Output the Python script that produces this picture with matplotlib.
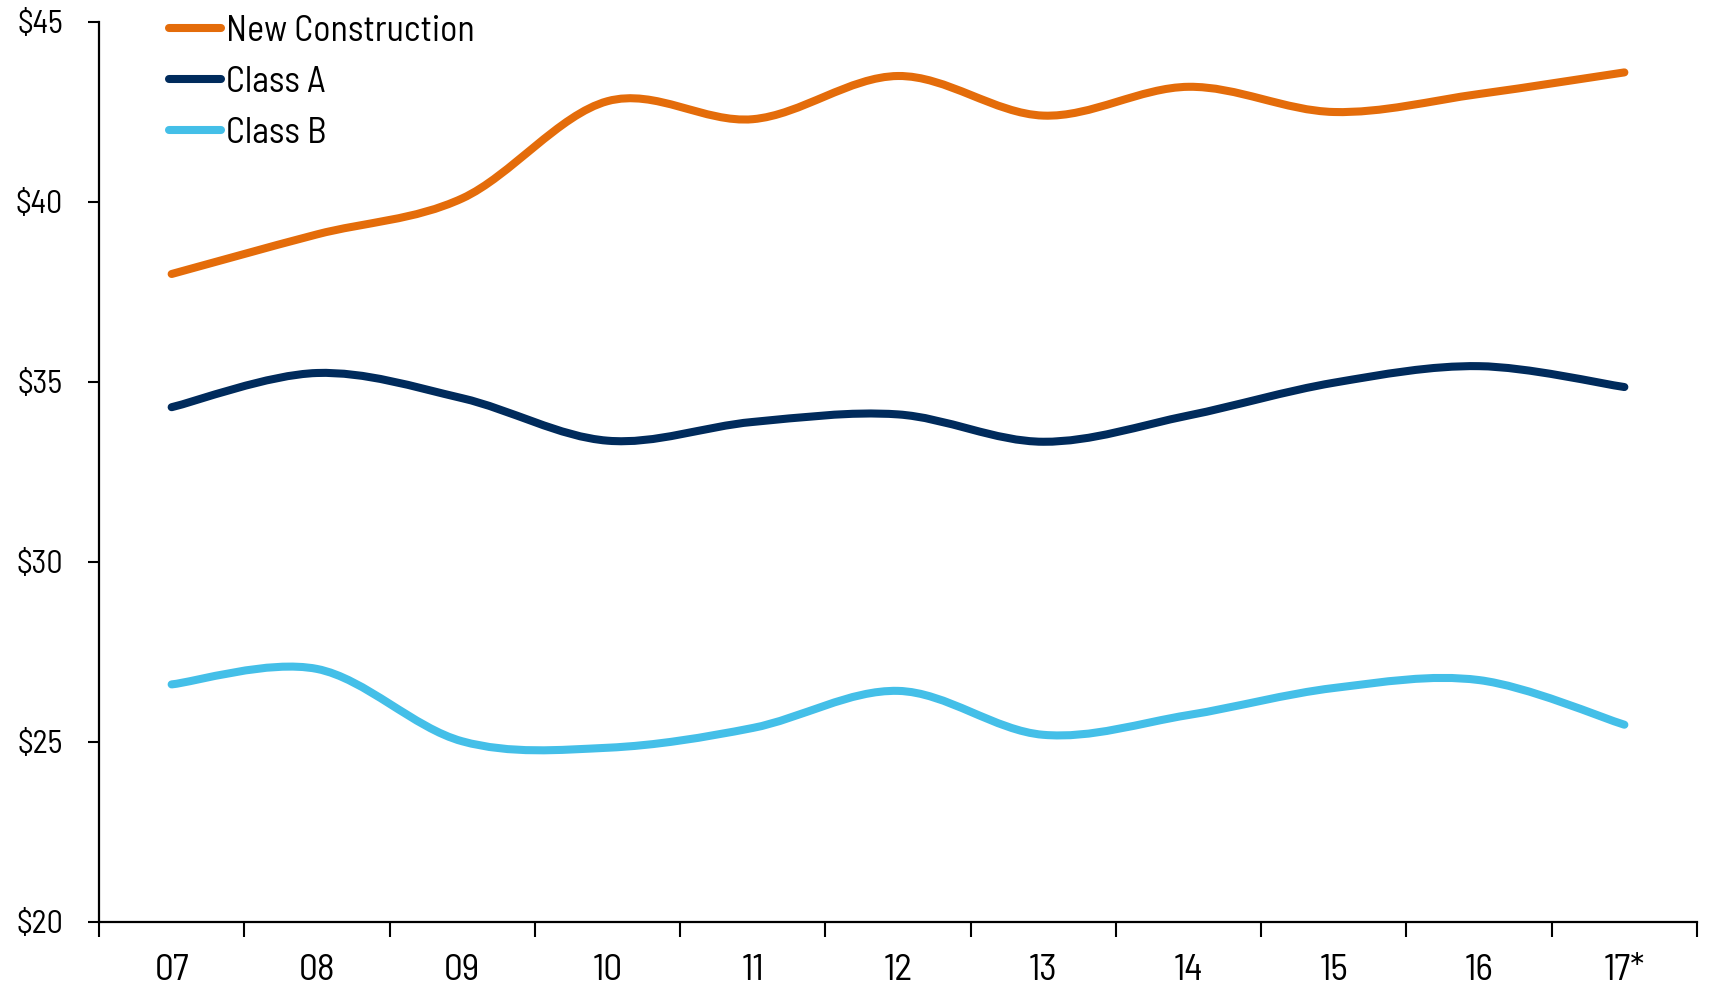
import matplotlib
matplotlib.use("Agg")
import matplotlib.pyplot as plt
from matplotlib.path import Path
from matplotlib.patches import PathPatch
from matplotlib.lines import Line2D
import numpy as np

# ---- data ----
years = ["07", "08", "09", "10", "11", "12", "13", "14", "15", "16", "17*"]
new_construction = [38.0, 39.1, 40.1, 42.8, 42.3, 43.5, 42.4, 43.2, 42.5, 43.0, 43.6]
class_a = [34.3, 35.25, 34.55, 33.37, 33.89, 34.1, 33.34, 34.07, 34.98, 35.44, 34.86]
class_b = [26.6, 27.03, 25.02, 24.84, 25.39, 26.42, 25.2, 25.75, 26.5, 26.72, 25.48]
series_names = ["New Construction", "Class A", "Class B"]
y_ticks = [20, 25, 30, 35, 40, 45]

colors = ["#E46C0A", "#002B5C", "#44BFE8"]

plt.rcParams["font.family"] = ["Barlow Semi Condensed", "DejaVu Sans"]
plt.rcParams["font.weight"] = "normal"

W, H = 1714, 991
fig = plt.figure(figsize=(W / 100, H / 100), dpi=100)
ax = fig.add_axes([99 / W, 1 - 922 / H, (1697 - 99) / W, 900 / H])

LW = 5.8


def smooth_path(xs, ys):
    pts = np.column_stack([xs, ys]).astype(float)
    n = len(pts)
    verts = [pts[0]]
    codes = [Path.MOVETO]
    for i in range(n - 1):
        p0 = pts[i - 1] if i > 0 else pts[i]
        p1 = pts[i]
        p2 = pts[i + 1]
        p3 = pts[i + 2] if i + 2 < n else pts[i + 1]
        c1 = p1 + (p2 - p0) / 6.0
        c2 = p2 - (p3 - p1) / 6.0
        verts += [c1, c2, p2]
        codes += [Path.CURVE4] * 3
    return Path(verts, codes)


x = np.arange(len(years))
handles = []
for vals, name, c in zip([new_construction, class_a, class_b], series_names, colors):
    patch = PathPatch(smooth_path(x, vals), facecolor="none", edgecolor=c,
                      lw=LW, capstyle="round", joinstyle="round",
                      transform=ax.transData, zorder=3)
    ax.add_patch(patch)
    handles.append(Line2D([], [], color=c, lw=LW, solid_capstyle="round", label=name))

ax.set_xlim(-0.5, len(years) - 0.5)
ax.set_ylim(20, 45)

ax.set_yticks(y_ticks)
ax.set_yticklabels([f"${v}" for v in y_ticks])
ax.tick_params(axis="y", length=8, width=1.5, pad=18, labelsize=23, color="black")

ax.set_xticks(np.arange(-0.5, len(years), 1.0))
ax.set_xticklabels([])
ax.set_xticks(x, minor=True)
ax.set_xticklabels(years, minor=True)
ax.tick_params(axis="x", which="major", length=10.5, width=1.5, color="black")
ax.tick_params(axis="x", which="minor", length=0, pad=23, labelsize=27)

for s in ["top", "right"]:
    ax.spines[s].set_visible(False)
for s in ["left", "bottom"]:
    ax.spines[s].set_linewidth(1.6)
    ax.spines[s].set_color("black")

leg = ax.legend(handles=handles, loc="upper left",
                bbox_to_anchor=(169 / W, 1 - 15 / H), bbox_transform=fig.transFigure,
                frameon=False, fontsize=26, handlelength=1.45, handletextpad=0.12,
                labelspacing=0.5, borderpad=0, borderaxespad=0)

fig.savefig("out.png", dpi=100)
